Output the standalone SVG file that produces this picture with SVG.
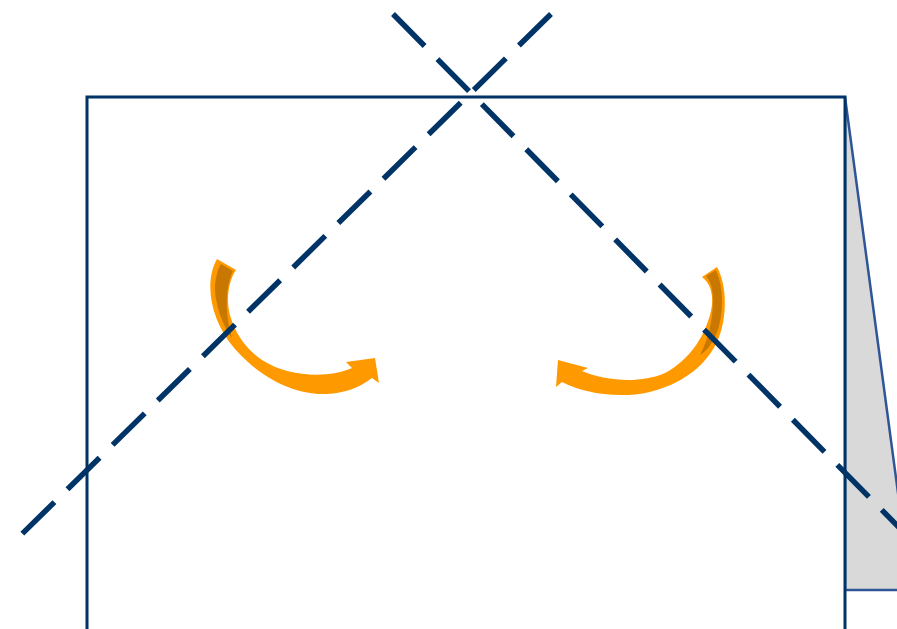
<svg xmlns="http://www.w3.org/2000/svg" width="897" height="629" viewBox="0 0 897 629">
  <style>
    .frame { fill: #ffffff; stroke: #003366; stroke-width: 3; }
    .fold { fill: #d9d9d9; stroke: #2f5597; stroke-width: 2.5; stroke-linejoin: miter; }
    .cut { fill: none; stroke: #003366; stroke-width: 5.5; stroke-dasharray: 45 18.3; stroke-linecap: butt; }
    .arrow { fill: #ff9900; }
    .shade { fill: #c87800; }
  </style>
  <rect width="897" height="629" fill="#ffffff"/>
  <g id="fold-flap">
    <polygon class="fold" points="845,97 911,590 845,590"/>
  </g>
  <g id="sheet">
    <rect class="frame" x="87" y="97" width="758" height="600"/>
  </g>
  <g id="arrow-left">
    <path class="arrow" d="M217,259 C204,282 210,320 235,349 C258,375 290,394 325,394 C340,394 358,389 372,378 L379,383 L375,358 L346,362 L352,368 C330,378 290,378 262,360 C240,345 228,320 228,300 C228,288 231,277 236,270 Z"/>
    <path class="shade" d="M221,264 L233,271 C226,285 224,310 232,338 C222,325 214,300 215,285 C216,276 218,268 221,264 Z"/>
  </g>
  <g id="arrow-right">
    <path class="arrow" d="M717,267 C727,285 728,318 717,342 C703,372 668,393 628,395 C600,396 578,390 562,382 L556,387 L558,360 L588,368 L582,371 C605,381 640,384 665,373 C690,360 708,333 712,305 C713,293 710,283 702,277 Z"/>
    <path class="shade" d="M706,276 L716,270 C724,288 724,315 716,335 C711,346 705,352 700,355 C708,340 713,320 713,300 C713,290 711,282 706,276 Z"/>
  </g>
  <g id="connectors">
    <line class="cut" x1="393" y1="14" x2="905" y2="533.5"/>
    <line class="cut" x1="551" y1="14" x2="22" y2="534"/>
  </g>
</svg>
